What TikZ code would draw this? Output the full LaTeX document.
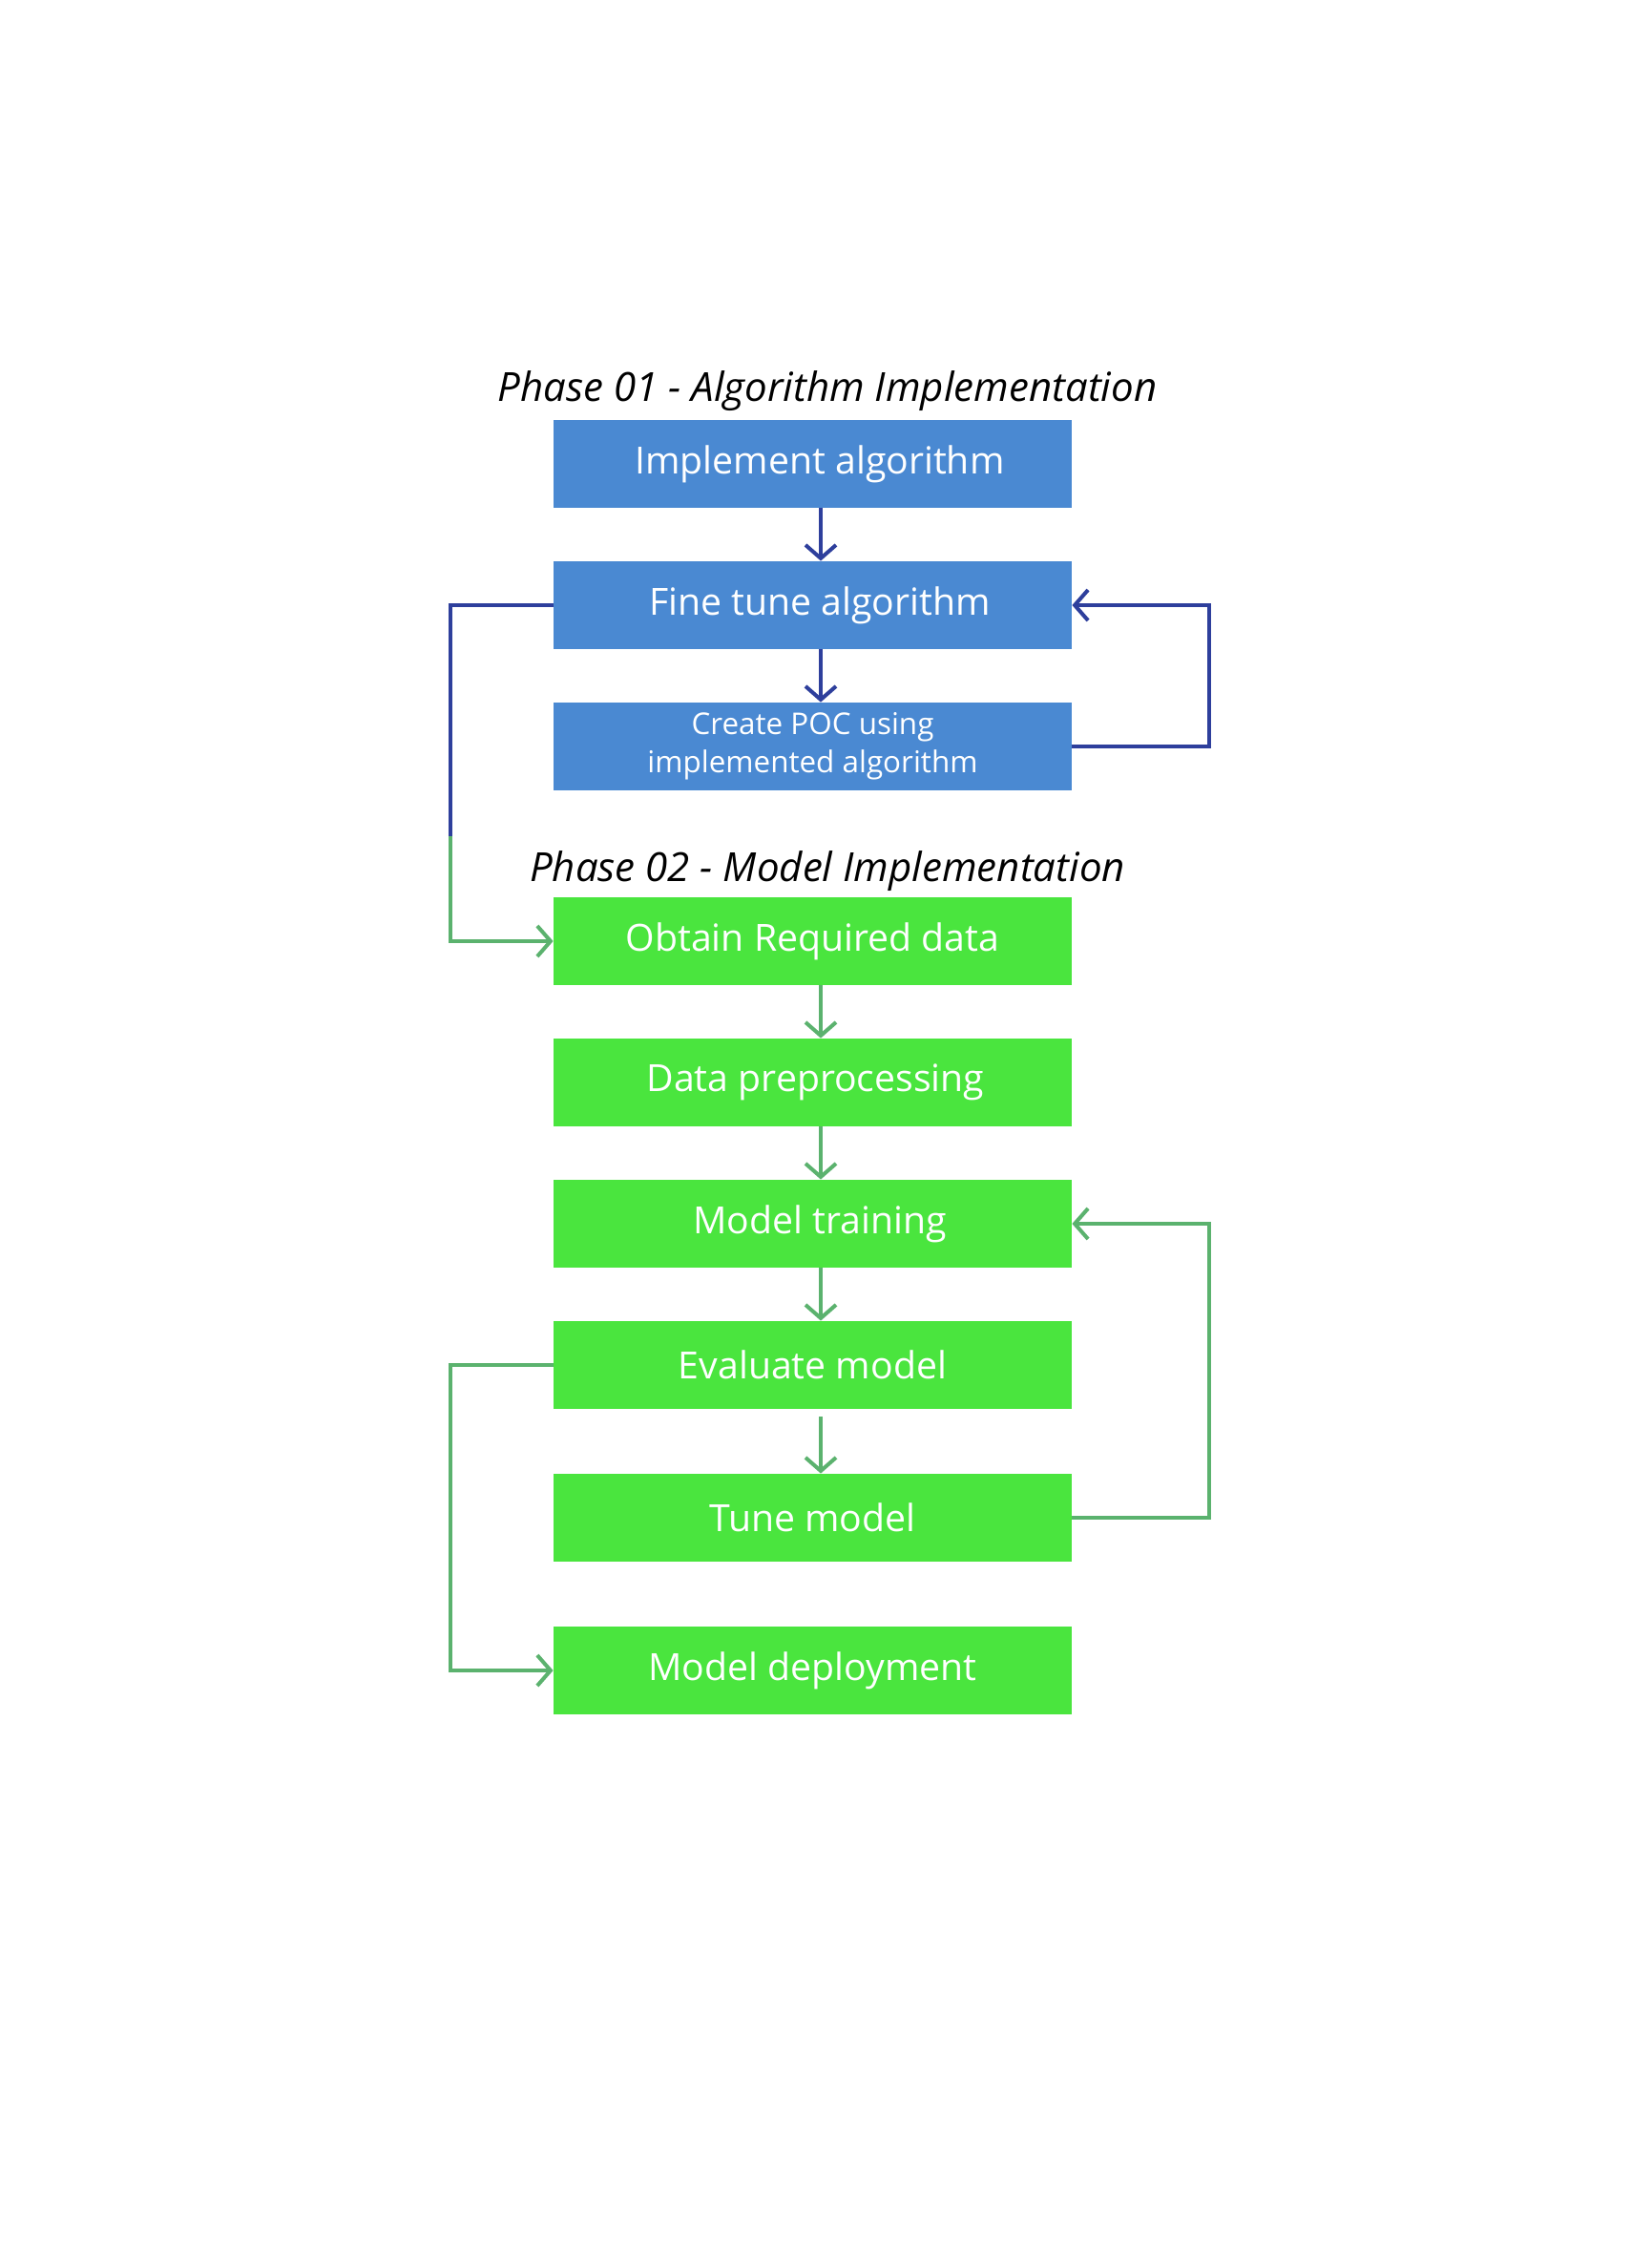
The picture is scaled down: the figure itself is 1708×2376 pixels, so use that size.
\documentclass[tikz,border=0pt]{standalone}
\usepackage{fontspec}
\setmainfont{Open Sans}
\usetikzlibrary{arrows.meta,calc}
\definecolor{boxblue}{HTML}{4A89D2}
\definecolor{boxgreen}{HTML}{4AE53E}
\definecolor{lnblue}{HTML}{2E3F9C}
\definecolor{lngreen}{HTML}{5BB26E}
\newcommand{\rsh}{\hspace*{7.5pt}}
\begin{document}
\begin{tikzpicture}[x=0.5pt,y=-0.5pt,
  bbox/.style={rectangle, inner sep=0pt, minimum width=271.5pt, minimum height=46pt, text=white, font=\fontsize{19.6}{23}\selectfont},
  bluebox/.style={bbox, fill=boxblue},
  greenbox/.style={bbox, fill=boxgreen},
  conn/.style={line width=2pt, -{Straight Barb[length=7pt,width=16pt,line width=2pt]}},
  plain/.style={line width=2pt},
  title/.style={font=\fontsize{21}{25}\selectfont\itshape, anchor=base}]
\useasboundingbox (0,0) rectangle (1708,2376);
\fill[white] (0,0) rectangle (1708,2376);
\node[title] (t1) at (867,420) {Phase 01 - Algorithm Implementation};
\node[title] (t2) at (867,923) {Phase 02 - Model Implementation};
\node[bluebox] (b1) at (851.5,486) {\rsh Implement algorithm};
\node[bluebox] (b2) at (851.5,634) {\rsh Fine tune algorithm};
\node[bluebox, align=center, font=\fontsize{15.7}{20}\selectfont] (b3) at (851.5,782) {Create POC using\\implemented algorithm};
\node[greenbox] (g1) at (851.5,986) {Obtain Required data};
\node[greenbox] (g2) at (851.5,1134) {\hspace*{3pt}Data preprocessing};
\node[greenbox] (g3) at (851.5,1282) {\rsh Model training};
\node[greenbox] (g4) at (851.5,1430) {Evaluate model};
\node[greenbox] (g5) at (851.5,1590) {Tune model};
\node[greenbox] (g6) at (851.5,1750) {Model deployment};
\coordinate (L) at (472,0);
\coordinate (R) at (1267,0);
\coordinate (mid) at (472,876);
\coordinate (s7) at (860,1484);
% phase 1
\draw[conn, lnblue] ($(b1.south)+(8.5,0)$) -- ($(b2.north)+(8.5,0)$);
\draw[conn, lnblue] ($(b2.south)+(8.5,0)$) -- ($(b3.north)+(8.5,0)$);
\draw[conn, lnblue] (b3.east) -- (b3.east -| R) -- (b2.east -| R) -- (b2.east);
\draw[plain, lnblue] (b2.west) -- (b2.west -| L) -- (mid);
\draw[conn, lngreen] (mid) |- (g1.west);
% phase 2
\draw[conn, lngreen] ($(g1.south)+(8.5,0)$) -- ($(g2.north)+(8.5,0)$);
\draw[conn, lngreen] ($(g2.south)+(8.5,0)$) -- ($(g3.north)+(8.5,0)$);
\draw[conn, lngreen] ($(g3.south)+(8.5,0)$) -- ($(g4.north)+(8.5,0)$);
\draw[conn, lngreen] (s7) -- ($(g5.north)+(8.5,0)$);
\draw[conn, lngreen] (g5.east) -- (g5.east -| R) -- (g3.east -| R) -- (g3.east);
\draw[conn, lngreen] (g4.west) -- (g4.west -| L) |- (g6.west);
\end{tikzpicture}
\end{document}
